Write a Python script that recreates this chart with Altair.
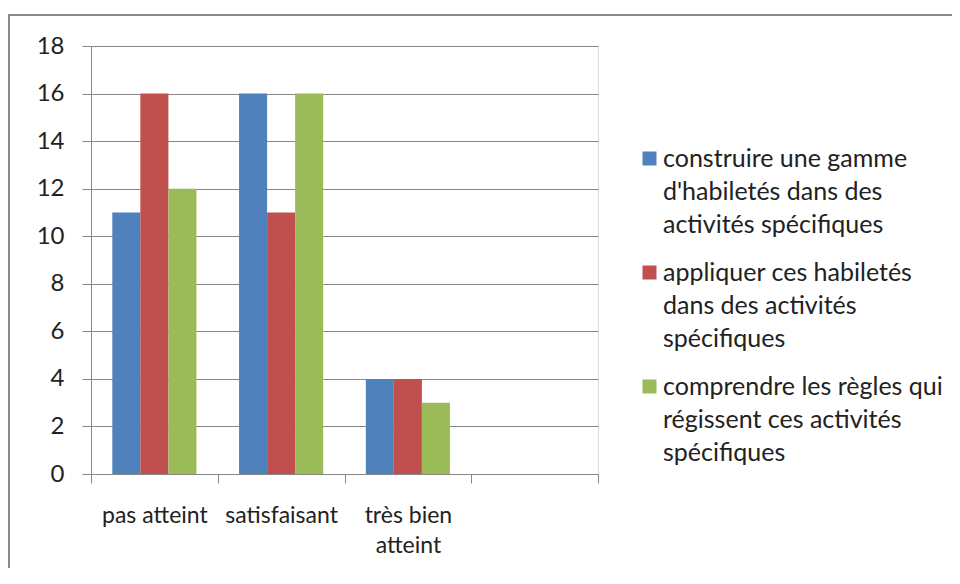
import altair as alt
import pandas as pd

categories = ["pas atteint", "satisfaisant", "très bien\natteint", " "]
series = [
    "construire une gamme\nd'habiletés dans des\nactivités spécifiques",
    "appliquer ces habiletés\ndans des activités\nspécifiques",
    "comprendre les règles qui\nrégissent ces activités\nspécifiques",
]
values_s1 = [11, 16, 4]
values_s2 = [16, 11, 4]
values_s3 = [12, 16, 3]
colors = ["#4F81BD", "#C0504D", "#9BBB59"]
y_ticks = [0, 2, 4, 6, 8, 10, 12, 14, 16, 18]

rows = []
for s, vals in zip(series, [values_s1, values_s2, values_s3]):
    for c, v in zip(categories[:3], vals):
        rows.append({"cat": c, "series": s, "value": v})
df = pd.DataFrame(rows)

FONT = "Lato"
GRAY = "#878787"

bars = alt.Chart(df).mark_bar().encode(
    x=alt.X("cat:N", sort=categories,
            scale=alt.Scale(domain=categories, paddingInner=0, paddingOuter=0),
            axis=alt.Axis(title=None, labelAngle=0, tickBand="extent", tickSize=9,
                          labelExpr="split(datum.label, '\\n')",
                          labelPadding=21, labelFontSize=23, labelFont=FONT,
                          labelLineHeight=30,
                          labelColor="#222222", domainColor=GRAY, tickColor=GRAY,
                          grid=False, labelLimit=0)),
    xOffset=alt.XOffset("series:N", sort=series,
                        scale=alt.Scale(domain=series, paddingInner=0, paddingOuter=0.76)),
    y=alt.Y("value:Q", scale=alt.Scale(domain=[0, 18], nice=False),
            axis=alt.Axis(title=None, values=y_ticks, tickSize=9, labelPadding=18,
                          labelFontSize=24, labelFont=FONT, labelColor="#222222",
                          domainColor=GRAY, tickColor=GRAY, gridColor=GRAY,
                          gridWidth=1, grid=True)),
    color=alt.Color("series:N", sort=series,
                    scale=alt.Scale(domain=series, range=colors),
                    legend=alt.Legend(title=None, orient="none", legendX=546, legendY=100,
                                      symbolType="square", symbolSize=196,
                                      symbolStrokeWidth=0, labelFontSize=25,
                                      labelFont=FONT, labelColor="#222222",
                                      labelLimit=0, rowPadding=22, labelOffset=1,
                                      labelExpr="split(datum.label, '\\n')")),
)

frame = alt.Chart(pd.DataFrame({"a": [0]})).mark_rect(
    fill=None, stroke="#8a8a8a", strokeWidth=2
).encode(x=alt.value(-82), x2=alt.value(1000), y=alt.value(-31), y2=alt.value(600))

chart = alt.layer(bars, frame).properties(
    width=507, height=428,
    autosize=alt.AutoSizeParams(type="none"),
    padding={"left": 83, "top": 38, "right": 354, "bottom": 94},
).configure_view(stroke=None).configure(
    style={"guide-label": {"lineHeight": 33}}
)

chart.save("out.html", embed_options={"renderer": "svg", "actions": False})
